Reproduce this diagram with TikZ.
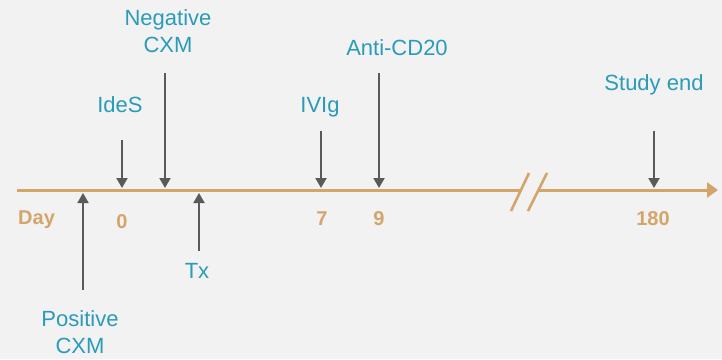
\documentclass[tikz,border=0pt]{standalone}
\usepackage{fontspec}
\setmainfont{Liberation Sans}
\usetikzlibrary{arrows.meta}
\definecolor{bg}{HTML}{F2F2F2}
\definecolor{teal}{HTML}{2A9BB8}
\definecolor{tan}{HTML}{D4A56A}
\definecolor{gry}{HTML}{5A5A5A}
\tikzset{
  lbl/.style={text=teal, font=\fontsize{22}{27}\selectfont, align=center, inner sep=0pt},
  daylbl/.style={text=tan, font=\fontsize{20}{24}\selectfont\bfseries, inner sep=0pt},
  garrow/.style={draw=gry, line width=2pt, -{Triangle[length=10pt,width=11pt]}},
  axis/.style={draw=tan, line width=3pt, -{Triangle[length=11pt,width=15pt]}},
  brk/.style={draw=tan, line width=2.6pt},
}
\begin{document}
\begin{tikzpicture}[x=1pt,y=-1pt]
\fill[bg] (0,0) rectangle (722,359);
\useasboundingbox (0,0) rectangle (722,359);

% axis
\coordinate (ax0) at (17,190);
\coordinate (ax1) at (718,190);
\draw[axis] (ax0) -- (ax1);
% break
\fill[bg] (511,211) -- (529,173) -- (547,173) -- (528,211) -- cycle;
\coordinate (b1a) at (511,211); \coordinate (b1b) at (529,173);
\coordinate (b2a) at (528,211); \coordinate (b2b) at (547,173);
\draw[brk] (b1a) -- (b1b);
\draw[brk] (b2a) -- (b2b);

% day labels
\node[daylbl, anchor=west] (day) at (18,220) {Day};
\node[daylbl] (d0) at (122,222) {0};
\node[daylbl] (d7) at (322,219) {7};
\node[daylbl] (d9) at (379,219) {9};
\node[daylbl] (d180) at (653,219) {180};

% labels above
\node[lbl] (ides) at (120,105) {IdeS};
\node[lbl] (negcxm) at (168,31) {Negative\\CXM};
\node[lbl] (ivig) at (320,107) {IVIg};
\node[lbl] (anti) at (397,48) {Anti-CD20};
\node[lbl] (study) at (654,85) {Study end};
% labels below
\node[lbl] (tx) at (197,271) {Tx};
\node[lbl] (poscxm) at (80,332) {Positive\\CXM};

% arrow endpoints
\coordinate (idesT) at (122,140);   \coordinate (idesB) at (122,188);
\coordinate (negT) at (165,73);     \coordinate (negB) at (165,188);
\coordinate (ivigT) at (321,131);   \coordinate (ivigB) at (321,188);
\coordinate (antiT) at (379,73);    \coordinate (antiB) at (379,188);
\coordinate (studyT) at (654,131);  \coordinate (studyB) at (654,188);
\coordinate (txB) at (199,251);     \coordinate (txT) at (199,193);
\coordinate (posB) at (83,290);     \coordinate (posT) at (83,193);

\draw[garrow] (idesT) -- (idesB);
\draw[garrow] (negT) -- (negB);
\draw[garrow] (ivigT) -- (ivigB);
\draw[garrow] (antiT) -- (antiB);
\draw[garrow] (studyT) -- (studyB);
\draw[garrow] (txB) -- (txT);
\draw[garrow] (posB) -- (posT);
\end{tikzpicture}
\end{document}
